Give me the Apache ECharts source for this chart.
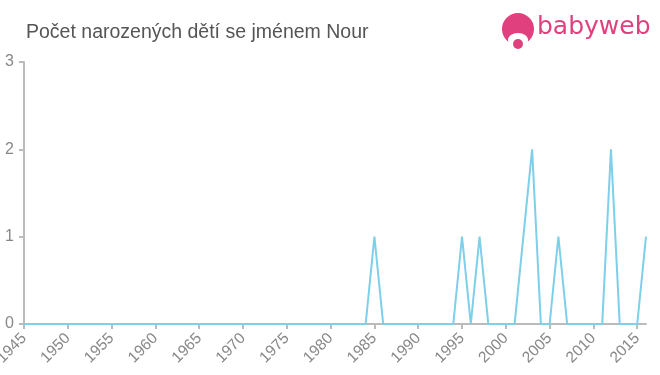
<!DOCTYPE html>
<html><head><meta charset="utf-8">
<script src="https://cdn.jsdelivr.net/npm/echarts@6/dist/echarts.min.js"></script>
<style>html,body{margin:0;padding:0;background:#fff}#c{width:660px;height:375px}</style>
</head><body><div id="c"></div>
<script>
var years = [];
for (var y = 1945; y <= 2016; y++) years.push(y);
// counts per year 1945..2016
var counts = [
  0,0,0,0,0, 0,0,0,0,0, // 1945-1954
  0,0,0,0,0, 0,0,0,0,0, // 1955-1964
  0,0,0,0,0, 0,0,0,0,0, // 1965-1974
  0,0,0,0,0, 0,0,0,0,0, // 1975-1984
  1,0,0,0,0, 0,0,0,0,0, // 1985-1994
  1,0,1,0,0, 0,0,1,2,0, // 1995-2004
  0,1,0,0,0, 0,0,2,0,0, // 2005-2014
  0,1                   // 2015-2016
];
var yTicks = [0,1,2,3];
var titleText = 'Počet narozených dětí se jménem Nour';
var data = years.map(function(y,i){return [y, counts[i]];});
var chart = echarts.init(document.getElementById('c'));
var pink = '#e0407e';
chart.setOption({
  animation:false,
  title:{text:titleText,left:21,top:18,textStyle:{fontFamily:'Liberation Sans, Arial, sans-serif',fontSize:19.5,fontWeight:'normal',color:'#555'}},
  grid:{left:24,right:14,top:62,bottom:51,containLabel:false,outerBoundsMode:'none'},
  xAxis:{type:'value',min:1945,max:2016,interval:5,
    axisLine:{lineStyle:{color:'#bbb',width:2}},
    axisTick:{show:true,length:5,lineStyle:{color:'#bbb',width:2}},
    splitLine:{show:false},
    axisLabel:{rotate:45,fontSize:15.5,color:'#888',fontFamily:'Liberation Sans, Arial, sans-serif',margin:12,showMaxLabel:false,showMinLabel:true,
      formatter:function(v){return v%5===0?String(v):'';}}},
  yAxis:{type:'value',min:0,max:3,interval:1,
    axisLine:{show:true,lineStyle:{color:'#bbb',width:2}},
    axisTick:{show:true,length:5,lineStyle:{color:'#bbb',width:2}},
    splitLine:{show:false},
    axisLabel:{fontSize:16,color:'#888',fontFamily:'Liberation Sans, Arial, sans-serif',margin:10}},
  series:[{type:'line',data:data,showSymbol:false,lineStyle:{color:'#7dcfea',width:2},z:3}],
  graphic:[
    {type:'circle',shape:{cx:518,cy:29,r:16},style:{fill:pink}},
    {type:'ellipse',shape:{cx:518,cy:40,rx:10,ry:7},style:{fill:'#fff'}},
    {type:'circle',shape:{cx:518,cy:44,r:5},style:{fill:pink}},
    {type:'text',left:537,top:15,style:{text:'babyweb',fontSize:25,fill:pink,fontFamily:'DejaVu Sans, sans-serif'}}
  ]
});
</script></body></html>
